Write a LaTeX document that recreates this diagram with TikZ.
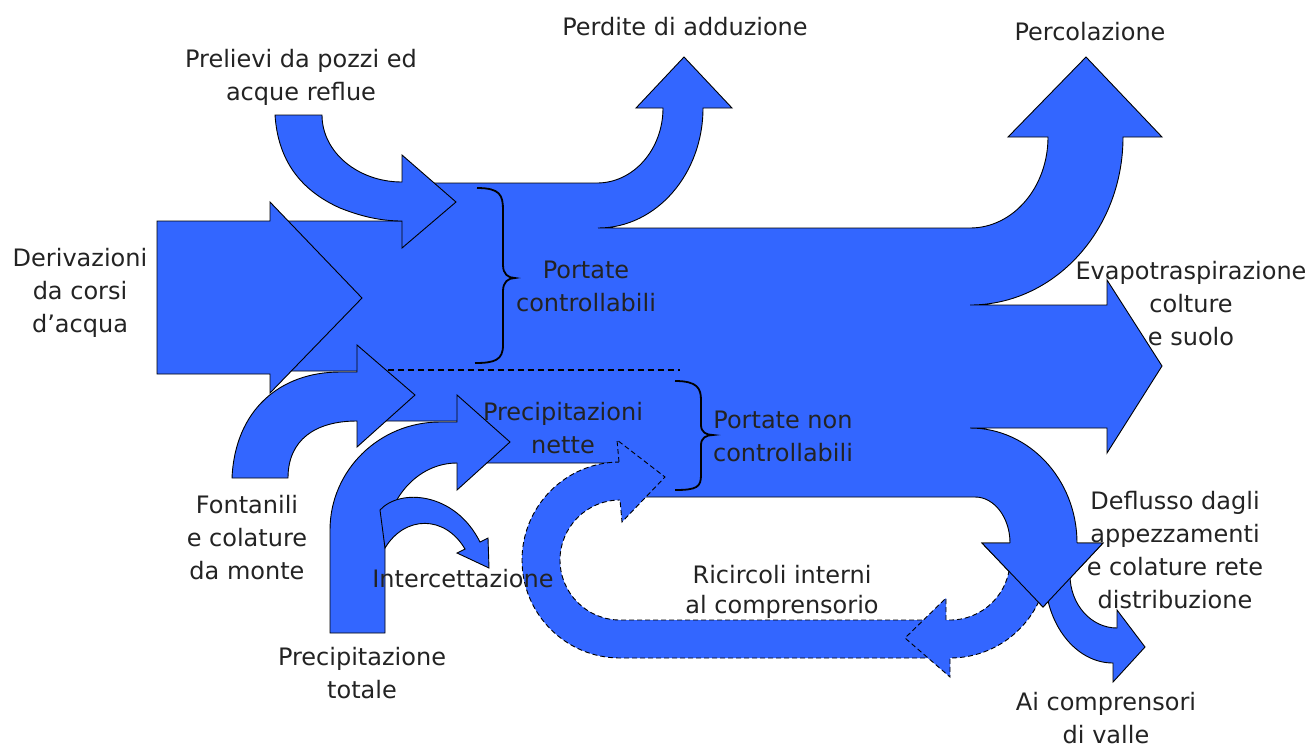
\documentclass[tikz,border=0pt]{standalone}
\usepackage{fontspec}
\setmainfont{DejaVu Sans}
\definecolor{flow}{RGB}{51,102,255}
\definecolor{ink}{RGB}{35,35,35}
\begin{document}
\begin{tikzpicture}[x=1pt,y=-1pt,
  flowshape/.style={fill=flow, draw=black, line width=0.9pt, line join=miter},
  loopshape/.style={fill=flow, draw=black, line width=0.9pt, dash pattern=on 5pt off 3pt},
  headline/.style={draw=black, line width=0.9pt},
  dividerline/.style={draw=black, line width=1.4pt, dash pattern=on 6pt off 4pt},
  bracestyle/.style={draw=black, line width=1.8pt},
  lbl/.style={text=ink, font=\fontsize{24}{33}\selectfont, align=center, inner sep=0pt},
]
\useasboundingbox (0,0) rectangle (1313,748);
\fill[white] (0,0) rectangle (1313,748);

% main body with branches (Perdite, Percolazione, Evapotraspirazione, Deflusso)
\path[flowshape] (430,183) -- (597,183) .. controls (633.5,183) and (663,149.4) .. (663,108)
  -- (636,108) -- (684,57) -- (732,108) -- (703,108)
  .. controls (703,174.3) and (656,228) .. (598,228)
  -- (970,228) .. controls (1013.1,228) and (1048,187.3) .. (1048,137)
  -- (1008,137) -- (1086,57) -- (1162,137) -- (1123,137)
  .. controls (1123,229.8) and (1054.5,305) .. (970,305)
  -- (1107,305) -- (1107,280) -- (1162,366) -- (1107,453) -- (1107,428) -- (970,428)
  .. controls (1029.1,428) and (1077,479.5) .. (1077,543)
  -- (1103,543) -- (1043,607) -- (982,543) -- (1010,543)
  .. controls (1010,517.6) and (994.3,497) .. (975,497)
  -- (640,497) -- (640,463) -- (487,463) -- (470,440) -- (458,421) -- (385,421)
  -- (370,400) -- (358,371) -- (291,371) -- (330,300) -- (280,221) -- (410,221) -- cycle;

% Derivazioni
\path[flowshape] (157,221) -- (270,221) -- (270,202) -- (362,298) -- (270,393) -- (270,374) -- (157,374) -- cycle;

% Prelievi
\path[flowshape] (275,115) -- (322,115) .. controls (322,152) and (357.8,182) .. (402,182)
  -- (402,155) -- (456,202) -- (402,248) -- (402,221)
  .. controls (380,221) and (360,216) .. (340,208) .. controls (300,190) and (278,160) .. (275,115) -- cycle;

% Fontanili
\path[flowshape] (232,478) -- (288,478) .. controls (288,440) and (315,421) .. (357,421)
  -- (357,447) -- (415,395) -- (357,345) -- (357,372) -- (340,372)
  .. controls (280,372) and (235,410) .. (232,478) -- cycle;

% Precipitazione totale
\path[flowshape] (330,633) -- (385,633) -- (385,545) .. controls (385,499.7) and (417.2,463) .. (457,463)
  -- (457,490) -- (510,442) -- (457,395) -- (457,422) -- (440,422)
  .. controls (379.2,422) and (330,470.4) .. (330,530) -- cycle;

% Intercettazione
\path[flowshape] (385,548) -- (380,510) .. controls (400,488) and (455,492) .. (480,542)
  -- (488,538) -- (489,568) -- (457,553) -- (465,549)
  .. controls (445,515) and (405,515) .. (385,548) -- cycle;

% Ricircoli loop
\path[loopshape] (620,462) .. controls (565.9,462) and (522,505.9) .. (522,560)
  .. controls (522,614.1) and (565.9,658) .. (620,658) -- (950,658)
  .. controls (1004.1,658) and (1048,614.1) .. (1048,560) -- (1010,560)
  .. controls (1010,593.1) and (983.1,620) .. (950,620) -- (620,620)
  .. controls (586.9,620) and (560,593.1) .. (560,560)
  .. controls (560,526.9) and (586.9,500) .. (620,500);
\path[loopshape] (619,462) -- (617,440) -- (665,477) -- (622,522) -- (620,500);
\path[loopshape] (946,620) -- (946,598) -- (905,638) -- (950,677) -- (950,658);

% Ai comprensori
\path[flowshape] (1070,575) .. controls (1070,604.3) and (1091,628) .. (1117,628)
  -- (1117,610) -- (1145,647) -- (1113,682) -- (1113,663)
  .. controls (1075.4,663) and (1045,623.6) .. (1045,575) -- cycle;

% Deflusso head on top
\fill[flow] (982,543) -- (1103,543) -- (1043,607) -- cycle;
\path[headline] (1010,543) -- (982,543) -- (1043,607) -- (1103,543) -- (1077,543);

% divider between controllable and non-controllable
\coordinate (divL) at (388,370);
\coordinate (divR) at (680,370);
\path[dividerline] (divL) -- (divR);

% braces
\path[bracestyle] (477,188) .. controls (500,188) and (503,195) .. (503,210) -- (503,265)
  .. controls (503,274) and (508,278) .. (515,278) .. controls (508,278) and (503,282) .. (503,291)
  -- (503,345) .. controls (503,360) and (495,363) .. (475,363);
\path[bracestyle] (675,381) .. controls (697,381) and (701,388) .. (701,400) -- (701,425)
  .. controls (701,432) and (706,435) .. (713,435) .. controls (706,435) and (701,438) .. (701,445)
  -- (701,475) .. controls (701,487) and (697,490) .. (675,490);

% labels
\node[lbl] (perdite) at (685,27) {Perdite di adduzione};
\node[lbl] (percol) at (1090,32) {Percolazione};
\node[lbl] (prelievi) at (301,77) {Prelievi da pozzi ed\\acque reflue};
\node[lbl] (deriv) at (80,293) {Derivazioni\\da corsi\\d’acqua};
\node[lbl] (pc) at (586,286) {Portate\\controllabili};
\node[lbl] (pnc) at (783,436) {Portate non\\controllabili};
\node[lbl] (precn) at (563,428) {Precipitazioni\\nette};
\node[lbl] (evapo) at (1191,304) {Evapotraspirazione\\colture\\e suolo};
\node[lbl] (defl) at (1175,550) {Deflusso dagli\\appezzamenti\\e colature rete\\distribuzione};
\node[lbl] (aicomp) at (1106,718) {Ai comprensori\\di valle};
\node[lbl, font=\fontsize{24}{30}\selectfont] (ricirc) at (782,592) {Ricircoli interni\\al comprensorio};
\node[lbl] (interc) at (463,579) {Intercettazione};
\node[lbl] (fontan) at (247,538) {Fontanili\\e colature\\da monte};
\node[lbl] (prectot) at (362,673) {Precipitazione\\totale};
\end{tikzpicture}
\end{document}
